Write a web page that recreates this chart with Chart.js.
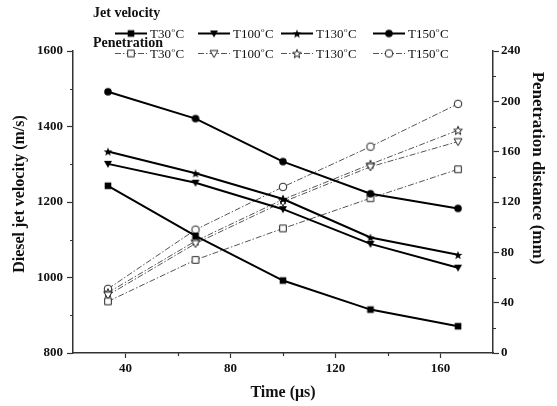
<!DOCTYPE html>
<html><head><meta charset="utf-8">
<script src="https://cdn.jsdelivr.net/npm/chart.js@4.4.0/dist/chart.umd.min.js"></script>
<style>html,body{margin:0;padding:0;background:#fff;}canvas{display:block;}</style>
</head><body>
<canvas id="c" width="557" height="406" style="width:557px;height:406px"></canvas>
<script>
// ---- data ----
const timeUs = [33.33, 66.67, 100, 133.33, 166.67];
const seriesNames = ['T30°C', 'T100°C', 'T130°C', 'T150°C'];
const jetT30  = [1243, 1110, 992, 915, 871];
const jetT100 = [1301, 1251, 1181, 1089, 1026];
const jetT130 = [1334, 1276, 1208, 1106, 1060];
const jetT150 = [1492, 1421, 1307, 1222, 1183];
const penT30  = [41, 74, 99, 123, 146];
const penT100 = [46, 87, 120, 148, 168];
const penT130 = [48, 89, 122, 150, 177];
const penT150 = [51, 98, 132, 164, 198];
const xTicks = [40, 80, 120, 160];
const xMinorTicks = [60, 100, 140];
const yMinorTicks = [900, 1100, 1300, 1500];
const y1MinorTicks = [20, 60, 100, 140, 180, 220];
const legendGroupTitles = ['Jet velocity', 'Penetration'];
const axisTitles = {x: 'Time (\u03bcs)', y: 'Diesel jet velocity (m/s)', y1: 'Penetration distance (mm)'};

// ---- markers ----
function makeMarker(shape, filled) {
  const s = 12, c = document.createElement('canvas');
  c.width = s; c.height = s;
  const g = c.getContext('2d');
  const cx = 6, cy = 6;
  g.beginPath();
  if (shape === 'square') {
    g.rect(cx - 3.3, cy - 3.3, 6.6, 6.6);
  } else if (shape === 'tri') {
    g.moveTo(cx - 4, cy - 3); g.lineTo(cx + 4, cy - 3); g.lineTo(cx, cy + 4); g.closePath();
  } else if (shape === 'star') {
    const R = 4.6, r = 1.9;
    for (let i = 0; i < 10; i++) {
      const a = -Math.PI / 2 + i * Math.PI / 5, rr = i % 2 ? r : R;
      const px = cx + rr * Math.cos(a), py = cy + 0.5 + rr * Math.sin(a);
      i ? g.lineTo(px, py) : g.moveTo(px, py);
    }
    g.closePath();
  } else {
    g.arc(cx, cy, 3.8, 0, Math.PI * 2);
  }
  if (filled) { g.fillStyle = '#000'; g.fill(); }
  else { g.fillStyle = '#fff'; g.fill(); g.lineWidth = 1; g.strokeStyle = '#222'; g.stroke(); }
  return c;
}
const shapes = ['square', 'tri', 'star', 'circle'];
const filledM = shapes.map(s => makeMarker(s, true));
const hollowM = shapes.map(s => makeMarker(s, false));

const toXY = arr => arr.map((v, i) => ({x: timeUs[i], y: v}));
const jetData = [jetT30, jetT100, jetT130, jetT150];
const penData = [penT30, penT100, penT130, penT150];
const PEN_DASH = [6, 2, 1.5, 2];
const PEN_COLOR = '#555';

const datasets = [];
jetData.forEach((d, i) => datasets.push({
  label: seriesNames[i], group: 0, data: toXY(d), yAxisID: 'y',
  borderColor: '#000', borderWidth: 2, pointStyle: filledM[i], pointRadius: 4,
  fill: false, tension: 0
}));
penData.forEach((d, i) => datasets.push({
  label: seriesNames[i], group: 1, data: toXY(d), yAxisID: 'y1',
  borderColor: PEN_COLOR, borderWidth: 1, borderDash: PEN_DASH, pointStyle: hollowM[i], pointRadius: 4,
  fill: false, tension: 0
}));

const SERIF = "'Liberation Serif', 'Times New Roman', serif";
const AX = '#333';

function drawLabel(ctx, text, x, y, size) {
  const parts = text.split('°');
  ctx.font = size + 'px ' + SERIF;
  ctx.textBaseline = 'alphabetic'; ctx.textAlign = 'left';
  ctx.fillText(parts[0], x, y);
  let w = ctx.measureText(parts[0]).width;
  if (parts.length > 1) {
    ctx.font = Math.round(size * 0.55) + 'px ' + SERIF;
    ctx.fillText('o', x + w + 0.5, y - size * 0.5);
    w += ctx.measureText('o').width + 1;
    ctx.font = size + 'px ' + SERIF;
    ctx.fillText(parts[1], x + w, y);
  }
}

const extras = {
  id: 'extras',
  afterDraw(chart) {
    const ctx = chart.ctx, {x, y, y1} = chart.scales;
    const ca = chart.chartArea;
    ctx.save();
    // minor ticks
    ctx.strokeStyle = AX; ctx.lineWidth = 1.2;
    ctx.beginPath();
    yMinorTicks.forEach(v => { const p = Math.round(y.getPixelForValue(v)) + 0.5; ctx.moveTo(ca.left - 3, p); ctx.lineTo(ca.left, p); });
    y1MinorTicks.forEach(v => { const p = Math.round(y1.getPixelForValue(v)) + 0.5; ctx.moveTo(ca.right, p); ctx.lineTo(ca.right + 3, p); });
    xMinorTicks.forEach(v => { const p = Math.round(x.getPixelForValue(v)) + 0.5; ctx.moveTo(p, ca.bottom); ctx.lineTo(p, ca.bottom + 3); });
    ctx.stroke();
    // axis titles
    ctx.fillStyle = '#111';
    ctx.font = 'bold 16px ' + SERIF;
    ctx.textAlign = 'center'; ctx.textBaseline = 'middle';
    ctx.fillText(axisTitles.x, (ca.left + ca.right) / 2, 393);
    ctx.save(); ctx.translate(20, 194); ctx.rotate(-Math.PI / 2); ctx.fillText(axisTitles.y, 0, 0); ctx.restore();
    ctx.save(); ctx.translate(537, 168); ctx.rotate(Math.PI / 2);
    ctx.font = 'bold 17px ' + SERIF; ctx.fillText(axisTitles.y1, 0, 0); ctx.restore();
    // legend
    const rowY = [33.5, 53.5], titleY = [17, 47], itemX = [115, 198, 281, 373];
    ctx.textAlign = 'left'; ctx.textBaseline = 'alphabetic';
    chart.data.datasets.forEach((ds, i) => {
      const g = ds.group, k = i % 4, x0 = itemX[k], yy = rowY[g];
      ctx.save();
      ctx.strokeStyle = ds.borderColor; ctx.lineWidth = ds.borderWidth;
      ctx.setLineDash(ds.borderDash || []);
      ctx.beginPath(); ctx.moveTo(x0, yy); ctx.lineTo(x0 + 32, yy); ctx.stroke();
      ctx.restore();
      ctx.drawImage(ds.pointStyle, x0 + 16 - 6, yy - 6);
      ctx.fillStyle = '#111';
      drawLabel(ctx, ds.label, x0 + 35, yy + 4.5, 13);
    });
    ctx.fillStyle = '#111';
    ctx.font = 'bold 14px ' + SERIF;
    ctx.textAlign = 'left';
    ctx.fillText(legendGroupTitles[0], 93, titleY[0]);
    ctx.fillText(legendGroupTitles[1], 93, titleY[1]);
    ctx.restore();
  }
};

const tickFont = {family: SERIF, size: 13, weight: 'bold'};
const plain = v => String(v);
new Chart(document.getElementById('c'), {
  type: 'line',
  data: {datasets},
  options: {
    responsive: false, animation: false, devicePixelRatio: 1,
    layout: {padding: {top: 51, left: 0, right: 0, bottom: 0}},
    plugins: {legend: {display: false}, tooltip: {enabled: false}},
    scales: {
      x: {
        type: 'linear', min: 20, max: 180,
        afterBuildTicks: s => { s.ticks = xTicks.map(v => ({value: v})); },
        afterFit: s => { s.height = 53; },
        grid: {drawOnChartArea: false, drawTicks: true, tickLength: 5, tickColor: AX, tickWidth: 1.2},
        border: {display: true, color: AX, width: 1.5},
        ticks: {font: tickFont, color: '#111', padding: 3, maxRotation: 0, callback: plain}
      },
      y: {
        position: 'left', min: 800, max: 1600,
        ticks: {stepSize: 200, font: tickFont, color: '#111', padding: 4, callback: plain},
        afterFit: s => { s.width = 73; },
        grid: {drawOnChartArea: false, drawTicks: true, tickLength: 6, tickColor: AX, tickWidth: 1.2},
        border: {display: true, color: AX, width: 1.5}
      },
      y1: {
        position: 'right', min: 0, max: 240,
        ticks: {stepSize: 40, font: tickFont, color: '#111', padding: 2, callback: plain},
        afterFit: s => { s.width = 64; },
        grid: {drawOnChartArea: false, drawTicks: true, tickLength: 6, tickColor: AX, tickWidth: 1.2},
        border: {display: true, color: AX, width: 1.5}
      }
    }
  },
  plugins: [extras]
});
</script>
</body></html>
